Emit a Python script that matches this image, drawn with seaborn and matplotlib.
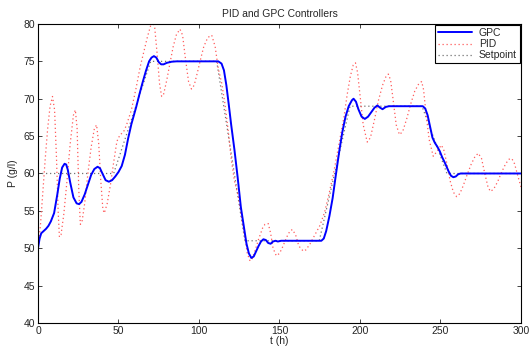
import numpy as np
import matplotlib
matplotlib.use("Agg")
import matplotlib.pyplot as plt
import seaborn as sns
import pandas as pd

# Values (t in hours, P in g/l)
gpc_t = [0, 1, 2, 3.5, 5, 6.5, 8, 10, 12, 13.5, 15, 16.5, 17.5, 18.5, 20, 22, 24, 25.5, 27,
         29, 31, 33, 35, 37, 38.5, 40, 42, 44, 46, 48, 50, 52, 54, 56, 58, 61, 63, 65, 67,
         69, 70.5, 72, 73.5, 75, 76.5, 78, 80, 83, 86, 112, 114, 115.5, 117, 118.5, 120,
         122, 124, 126, 128, 129.5, 131, 132.5, 134, 135.5, 137, 138.5, 140, 141.5, 143,
         144.5, 146, 147.5, 149, 151, 176, 177.5, 179, 181, 183, 185, 187, 189, 191, 193,
         195, 196, 197.5, 199, 201, 203, 205, 207, 209, 210.8, 212.5, 214, 216, 218, 239,
         240.5, 242, 243.5, 245, 246.5, 248, 249.5, 251, 253, 255, 256.5, 258, 259.5, 261,
         262.5, 300]
gpc_p = [50, 51.3, 52.0, 52.3, 52.6, 53.0, 53.6, 54.7, 57.2, 59.3, 60.8, 61.3, 61.2, 60.5,
         58.8, 56.8, 56.0, 55.9, 56.2, 57.2, 58.5, 59.8, 60.6, 60.9, 60.7, 60.0, 59.1, 58.9,
         59.1, 59.6, 60.2, 61.0, 62.5, 64.7, 66.6, 68.9, 70.6, 72.2, 73.7, 75.0, 75.5, 75.7,
         75.5, 74.9, 74.6, 74.6, 74.8, 74.95, 75, 75, 74.7, 73.8, 71.8, 69.2, 66.5, 63.2,
         59.5, 55.5, 52.7, 50.6, 49.3, 48.7, 48.9, 49.6, 50.3, 50.9, 51.2, 51.1, 50.7, 50.6,
         50.9, 51.0, 50.9, 51, 51, 51.3, 52.3, 54.3, 56.7, 59.8, 62.8, 65.5, 67.6, 69.0,
         69.8, 70.0, 69.6, 68.6, 67.6, 67.3, 67.6, 68.2, 68.8, 69.1, 68.8, 68.6, 68.9, 69,
         69, 68.7, 67.8, 66.3, 64.8, 64.1, 63.6, 63.0, 62.2, 61.3, 60.3, 59.7, 59.5, 59.6,
         59.9, 60.0, 60]

pid_t = [0, 1.5, 3, 4.5, 6, 7.5, 9, 10.3, 11.5, 12.5, 13.3, 14.3, 16, 18, 20, 22, 23.2,
         24.3, 25.3, 26.3, 27.3, 29, 31, 33, 35, 36.4, 37.7, 39, 40.3, 41.2, 43, 45, 47, 49,
         51, 53, 55, 58, 61, 63.5, 66, 68, 70, 71.3, 72.5, 74, 75.5, 76.8, 78, 80, 82, 84,
         86, 88.2, 89.8, 91.5, 93.5, 95.3, 97, 99, 101, 103, 105.5, 107.9, 110, 112, 114,
         116, 118, 120, 122, 124.4, 126.5, 128.6, 130, 131.7, 133, 135, 137, 139.5, 141, 143,
         144.5, 146, 148, 150, 152, 154.5, 156.5, 158, 160, 162, 164.8, 166.5, 169, 172,
         175, 178, 181, 184, 187, 190, 192, 194, 195.8, 197.2, 198.5, 200, 202, 204.5,
         206.5, 209, 211.5, 214, 216, 217.6, 219, 220.5, 222.5, 224.5, 226.5, 229, 231.5,
         234, 236.5, 238.3, 239.5, 241, 243, 245.5, 248, 250.5, 252, 254, 256, 258, 260,
         262, 264, 266.5, 269, 271.5, 273.5, 275.5, 277.5, 279.5, 281, 283, 285.5, 288,
         290.5, 292.5, 294.3, 296, 298, 300]
pid_p = [50, 53, 57.5, 62, 66, 69, 70.3, 68.5, 62, 55, 51.5, 51.8, 54.5, 59, 64, 67.8, 68.5,
         66, 58, 53.2, 53.5, 56, 60, 63.5, 66, 66.5, 64, 59, 55.2, 54.7, 56, 58.5, 61.5, 64.3,
         65.2, 65.5, 66.5, 68.5, 71.5, 74.3, 76.5, 78.3, 79.8, 80.3, 79.5, 76, 72, 70.3, 70.6,
         72.5, 74.8, 77, 78.6, 79.3, 78.5, 75.5, 72.3, 71.3, 71.8, 73.5, 75.3, 77, 78.2,
         78.5, 77, 74, 72.2, 69.5, 66, 62, 59, 57, 54, 51.3, 49.3, 48.3, 48.6, 49.8, 51.2,
         52.7, 53.2, 53.3, 52, 50, 49.0, 49.3, 50.2, 51.5, 52.3, 52.5, 51.8, 50.3, 49.6,
         49.8, 50.6, 51.8, 53, 54.8, 57.5, 60.5, 64, 67.5, 70.5, 73, 74.5, 74.8, 73.5, 70.5,
         66.5, 64.2, 64.8, 67.2, 69.8, 71.8, 72.9, 73.3, 72.5, 70, 66.5, 65.2, 65.6, 67.3,
         69.3, 71, 72, 72.3, 71.2, 68, 64.5, 62.3, 63, 63.8, 63.2, 61.3, 59, 57.5, 56.9,
         57.3, 58.3, 59.8, 61.2, 62.3, 62.7, 62, 60, 58.2, 57.6, 57.9, 58.9, 60.2, 61.3,
         61.9, 62, 61.3, 59.7, 58.2]

sp_t = [0, 47, 70, 111, 128.5, 174.7, 193.8, 238.5, 254, 300]
sp_p = [60, 60, 75, 75, 51, 51, 69, 69, 60, 60]

gpc = pd.DataFrame({"t": gpc_t, "P": gpc_p})
pid = pd.DataFrame({"t": pid_t, "P": pid_p})
sp = pd.DataFrame({"t": sp_t, "P": sp_p})

sns.set_style("ticks")
plt.rcParams["font.family"] = ["Liberation Sans", "DejaVu Sans"]

fig = plt.figure(figsize=(5.3, 3.47), dpi=100)
ax = fig.add_axes([0.0717, 0.0692, 0.9113, 0.8617])

dots = (0, (1, 2.2))
sns.lineplot(data=sp, x="t", y="P", ax=ax, color="0.45", linestyle=dots, linewidth=0.9,
             label="Setpoint", estimator=None, sort=False)
sns.lineplot(data=pid, x="t", y="P", ax=ax, color="#ff5a5a", linestyle=dots, linewidth=0.9,
             label="PID", estimator=None, sort=False)
sns.lineplot(data=gpc, x="t", y="P", ax=ax, color="#0000ff", linestyle="-", linewidth=1.4,
             label="GPC", estimator=None, sort=False)

ax.set_xlim(0, 300)
ax.set_ylim(40, 80)
ax.set_xticks(np.arange(0, 301, 50))
ax.set_yticks(np.arange(40, 81, 5))
ax.tick_params(direction="in", top=True, right=True, labelsize=7.5, length=3, width=0.6,
               pad=2)
for s in ax.spines.values():
    s.set_visible(True)
    s.set_linewidth(0.8)
    s.set_color("black")

ax.set_title("PID and GPC Controllers", fontsize=7.5, pad=5)
ax.set_xlabel("t (h)", fontsize=7.5, labelpad=0)
ax.set_ylabel("P (g/l)", fontsize=7.5, labelpad=4)

h, l = ax.get_legend_handles_labels()
order = [2, 1, 0]
leg = ax.legend([h[i] for i in order], [l[i] for i in order], loc="upper right",
                fontsize=7.5, frameon=True, fancybox=False, borderaxespad=0.1,
                handlelength=3.2, handletextpad=0.7, borderpad=0.3, labelspacing=0.1)
leg.get_frame().set_edgecolor("black")
leg.get_frame().set_linewidth(0.8)
leg.get_frame().set_alpha(1)

fig.savefig("out.png", dpi=100)
